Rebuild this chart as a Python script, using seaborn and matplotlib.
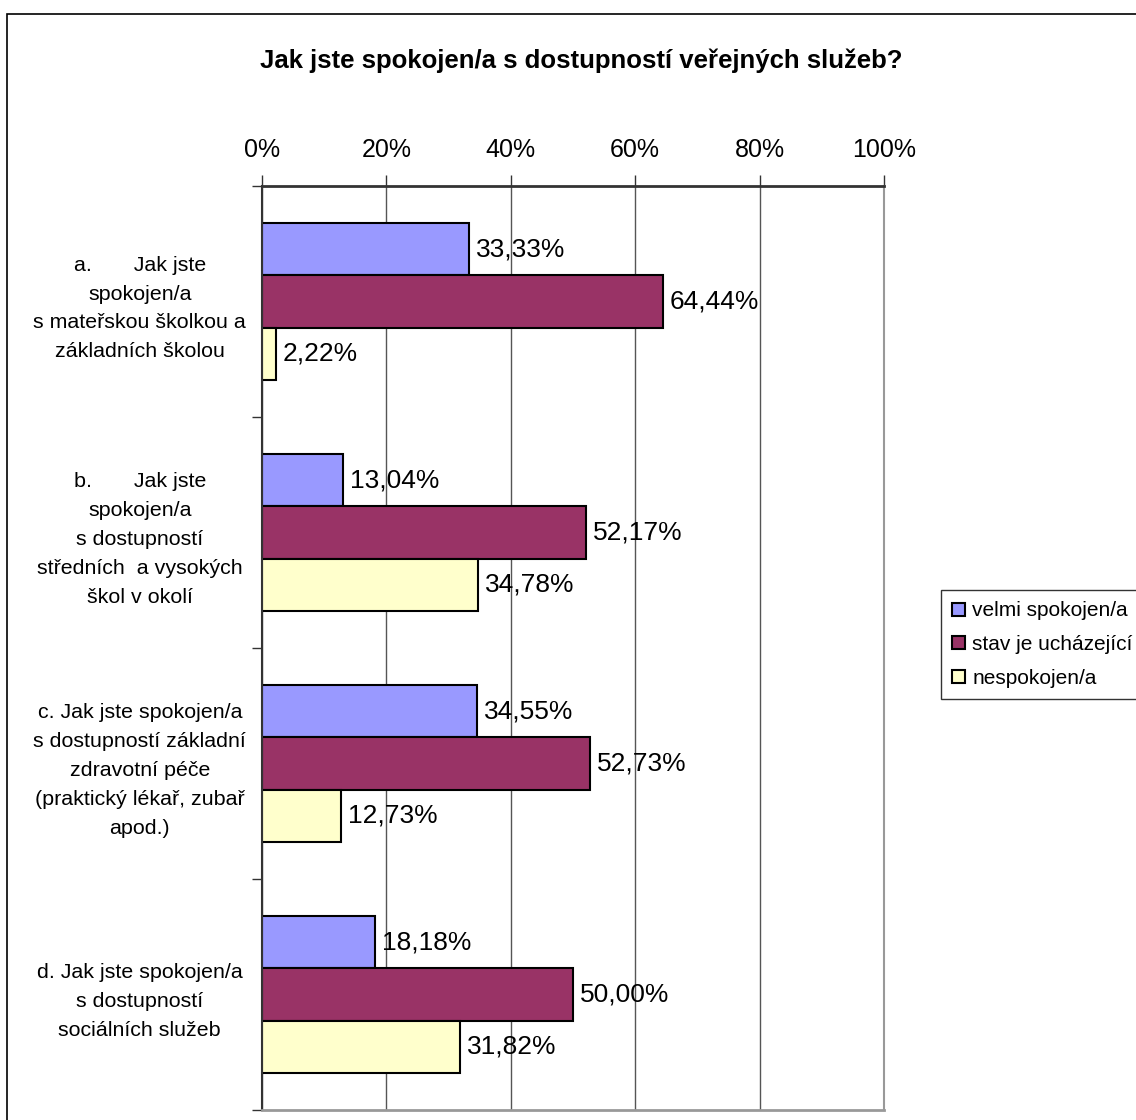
import pandas as pd
import matplotlib
matplotlib.use("Agg")
import matplotlib.pyplot as plt
from matplotlib.patches import Rectangle
import seaborn as sns

categories = [
    "a.       Jak jste\nspokojen/a\ns mateřskou školkou a\nzákladních školou",
    "b.       Jak jste\nspokojen/a\ns dostupností\nstředních  a vysokých\nškol v okolí",
    "c. Jak jste spokojen/a\ns dostupností základní\nzdravotní péče\n(praktický lékař, zubař\napod.)",
    "d. Jak jste spokojen/a\ns dostupností\nsociálních služeb",
]
series = ["velmi spokojen/a", "stav je ucházející", "nespokojen/a"]
velmi = [33.33, 13.04, 34.55, 18.18]
uchazejici = [64.44, 52.17, 52.73, 50.00]
nespokojen = [2.22, 34.78, 12.73, 31.82]
x_ticks = [0, 20, 40, 60, 80, 100]
colors = ["#9999FF", "#993366", "#FFFFCC"]

rows = []
for s, vals in zip(series, [velmi, uchazejici, nespokojen]):
    for c, v in zip(categories, vals):
        rows.append({"otazka": c, "odpoved": s, "podil": v})
df = pd.DataFrame(rows)

sns.set_style("white")
plt.rcParams["font.family"] = ["Liberation Sans", "DejaVu Sans"]
plt.rcParams["text.color"] = "black"
plt.rcParams["xtick.labelcolor"] = "black"
plt.rcParams["ytick.labelcolor"] = "black"

fig = plt.figure(figsize=(11.36, 11.2), dpi=100)
ax = fig.add_axes([262 / 1136, 1 - 1110 / 1120, 622 / 1136, 924 / 1120])

sns.barplot(data=df, y="otazka", x="podil", hue="odpoved", order=categories,
            hue_order=series, palette=colors, orient="h", width=0.68, gap=0,
            edgecolor="black", linewidth=1.5, saturation=1, ax=ax, legend=True)

for cont in ax.containers:
    vals = [b.get_width() for b in cont]
    ax.bar_label(cont, labels=[f"{v:.2f}".replace(".", ",") + "%" for v in vals],
                 padding=5, fontsize=19, color="black")

ax.set_xlim(0, 100)
ax.set_ylim(3.5, -0.5)
ax.xaxis.tick_top()
ax.set_xticks(x_ticks, labels=[f"{t}%" for t in x_ticks])
ax.tick_params(axis="x", which="major", length=8, width=1, color="#333333",
               pad=9, labelsize=18, direction="out")
ax.set_yticks(range(4))
ax.set_yticks([-0.5, 0.5, 1.5, 2.5, 3.5], minor=True)
ax.tick_params(axis="y", which="major", length=0, pad=88, labelsize=15.4)
ax.tick_params(axis="y", which="minor", length=7, width=1, color="#333333",
               direction="out", left=True)
for lab in ax.get_yticklabels():
    lab.set_ha("center")
    lab.set_multialignment("center")
    lab.set_linespacing(1.66)
ax.set_xlabel("")
ax.set_ylabel("")

ax.xaxis.grid(True, color="#555555", linewidth=1)
ax.set_axisbelow(True)
ax.spines["left"].set_color("#333333")
ax.spines["left"].set_linewidth(1.5)
ax.spines["top"].set_color("#333333")
ax.spines["top"].set_linewidth(2)
ax.spines["right"].set_color("#999999")
ax.spines["bottom"].set_color("#999999")
ax.spines["right"].set_linewidth(1.5)
ax.spines["bottom"].set_linewidth(2)

handles, labels = ax.get_legend_handles_labels()
ax.get_legend().remove()
leg = fig.legend(handles, labels, loc="upper left",
                 bbox_to_anchor=(941 / 1136, 1 - 590 / 1120),
                 fontsize=15, frameon=True, fancybox=False, borderaxespad=0,
                 handlelength=0.6, handleheight=0.6, handletextpad=0.35,
                 labelspacing=0.7, borderpad=0.55)
leg.get_frame().set_edgecolor("black")
leg.get_frame().set_linewidth(1)

fig.text(581 / 1136, 1 - 61 / 1120, "Jak jste spokojen/a s dostupností veřejných služeb?",
         ha="center", va="center", fontsize=18.5, fontweight="bold")

fig.add_artist(Rectangle((7 / 1136, -0.05), 1.2, 1.05 - 14 / 1120,
                         transform=fig.transFigure, fill=False,
                         edgecolor="black", linewidth=1.2))

fig.savefig("out.png", dpi=100)
